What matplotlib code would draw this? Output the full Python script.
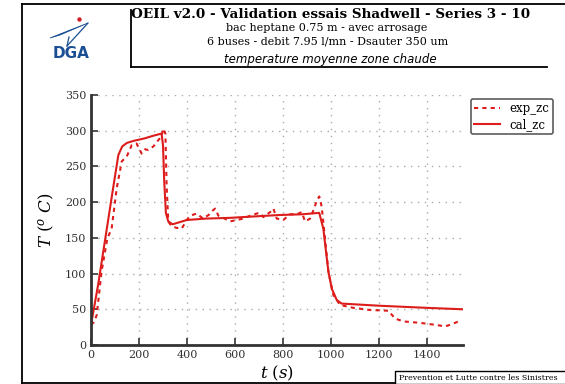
import matplotlib
matplotlib.use("Agg")
import matplotlib.pyplot as plt
from matplotlib.lines import Line2D
from matplotlib.patches import Rectangle, Polygon

plt.rcParams["mathtext.fontset"] = "dejavuserif"

# Measured zone temperature (experiment)
t_exp = [0, 12, 24, 44, 68, 86, 107, 128, 149, 170, 190, 211, 225, 239, 260, 281, 294,
         301, 310, 315, 322, 336, 357, 378, 399, 413, 440, 467, 490, 503, 517, 531, 551,
         579, 607, 635, 663, 690, 704, 718, 746, 760, 774, 801, 829, 857, 878, 892, 913,
         926, 940, 951, 961, 975, 989, 1010, 1038, 1093, 1163, 1239, 1267, 1302, 1371,
         1440, 1475, 1503, 1538]
T_exp = [28, 32, 42, 103, 149, 163, 219, 257, 264, 280, 282, 268, 274, 273, 278, 287, 292,
         303, 296, 224, 173, 166, 164, 163, 175, 181, 184, 177, 182, 187, 191, 181, 178,
         173, 175, 177, 181, 184, 185, 179, 186, 191, 177, 175, 183, 183, 186, 173, 177,
         188, 201, 208, 194, 149, 103, 70, 56, 52, 49, 48, 37, 33, 31,
         28, 26, 29, 34]

# Computed zone temperature (simulation)
t_cal = [0, 30, 60, 90, 114, 130, 150, 180, 220, 260, 294, 300, 305, 312, 322, 340, 360,
         399, 480, 579, 680, 787, 880, 951, 968, 989, 1003, 1024, 1044, 1200, 1400, 1550]
T_cal = [28, 85, 150, 215, 266, 278, 283, 286, 289, 293, 296, 280, 230, 185, 173, 169, 171,
         175, 177, 178, 180, 182, 183, 185, 163, 103, 79, 63, 58, 55, 52, 50]

x_ticks = [0, 200, 400, 600, 800, 1000, 1200, 1400]
y_ticks = [0, 50, 100, 150, 200, 250, 300, 350]

W, H = 565, 384
RED = "#dd1c1c"


def fp(x, y):
    """Figure pixel position (origin top-left) to figure fraction."""
    return x / W, 1 - y / H


fig = plt.figure(figsize=(W / 100, H / 100), dpi=100)
fig.patch.set_facecolor("white")

ax = fig.add_axes([91 / W, 1 - 345 / H, (463 - 91) / W, (345 - 95) / H])
ax.plot(t_exp, T_exp, color=RED, lw=1.5, ls=(0, (2, 2)), label="exp_zc")
ax.plot(t_cal, T_cal, color=RED, lw=1.5, ls="-", label="cal_zc")

ax.set_xlim(0, 1550)
ax.set_ylim(0, 350)
ax.set_xticks(x_ticks)
ax.set_yticks(y_ticks)
ax.grid(True, color="#aaaaaa", ls=(0, (1, 4)), lw=1.0)
for side in ("top", "right"):
    ax.spines[side].set_visible(False)
for side in ("left", "bottom"):
    ax.spines[side].set_linewidth(2.0)
    ax.spines[side].set_color("#333333")
ax.tick_params(direction="in", length=5, width=1.2, color="#333333",
               labelsize=8, labelcolor="#333333")
for lab in ax.get_xticklabels() + ax.get_yticklabels():
    lab.set_family("DejaVu Serif")
ax.set_xlabel(r"$t\ (s)$", fontsize=12, labelpad=3)
ax.set_ylabel(r"$T\ (^o\ C)$", fontsize=12, labelpad=6)

leg = ax.legend(loc="upper left", bbox_to_anchor=(465 / W, 1 - 93 / H),
                bbox_transform=fig.transFigure, prop={"family": "DejaVu Serif", "size": 8.5},
                frameon=True, fancybox=True, handlelength=2.2, borderpad=0.3,
                labelspacing=0.2, handletextpad=0.8)
leg.get_frame().set_edgecolor("#333333")
leg.get_frame().set_linewidth(1.2)

# Page frame
frame_lines = [((22, 4), (22, 384)), ((22, 4), (565, 4)), ((22, 383), (395, 383)),
               ((131, 10), (131, 67)), ((131, 67), (547, 67))]
for (x0, y0), (x1, y1) in frame_lines:
    a, b = fp(x0, y0)
    c, d = fp(x1, y1)
    fig.add_artist(Line2D([a, c], [b, d], transform=fig.transFigure,
                          color="black", lw=1.3))

# Footer box
bx, by = fp(395, 371)
fig.add_artist(Rectangle((bx, 0), 1 - bx + 0.01, by, transform=fig.transFigure,
                         facecolor="white", edgecolor="black", lw=1.0))
fig.text(*fp(399, 378), "Prevention et Lutte contre les Sinistres",
         family="DejaVu Serif", fontsize=5.7, va="center", ha="left")

# Header texts
fig.text(*fp(331, 15), "OEIL v2.0 - Validation essais Shadwell - Series 3 - 10",
         family="DejaVu Serif", fontweight="bold", fontsize=9.7, ha="center", va="center")
fig.text(*fp(327, 28), "bac heptane 0.75 m - avec arrosage",
         family="DejaVu Serif", fontsize=8.0, ha="center", va="center")
fig.text(*fp(328, 42), "6 buses - debit 7.95 l/mn - Dsauter 350 um",
         family="DejaVu Serif", fontsize=8.0, ha="center", va="center")
fig.text(*fp(330, 59), "temperature moyenne zone chaude",
         family="DejaVu Sans", style="italic", fontsize=8.5, ha="center", va="center")

# DGA logo
BLUE = "#1b4f93"
swoosh = Polygon([fp(50, 38), fp(88, 23), fp(60, 35)], closed=True,
                 transform=fig.transFigure, facecolor=BLUE, edgecolor=BLUE, lw=0.6)
fig.add_artist(swoosh)
fig.add_artist(Line2D([fp(88, 23)[0], fp(67, 46)[0]], [fp(88, 23)[1], fp(67, 46)[1]],
                      transform=fig.transFigure, color=BLUE, lw=0.9))
fig.add_artist(Line2D([fp(69, 37)[0], fp(67, 46)[0]], [fp(69, 37)[1], fp(67, 46)[1]],
                      transform=fig.transFigure, color=BLUE, lw=0.9))
fig.add_artist(Line2D([fp(79, 19)[0]], [fp(79, 19)[1]], transform=fig.transFigure,
                      marker="o", ms=2.2, color="#d11f2a", lw=0))
fig.text(*fp(71, 54), "DGA", family="DejaVu Sans", fontweight="bold", fontsize=11,
         color=BLUE, ha="center", va="center")

fig.savefig("out.png", dpi=100)
